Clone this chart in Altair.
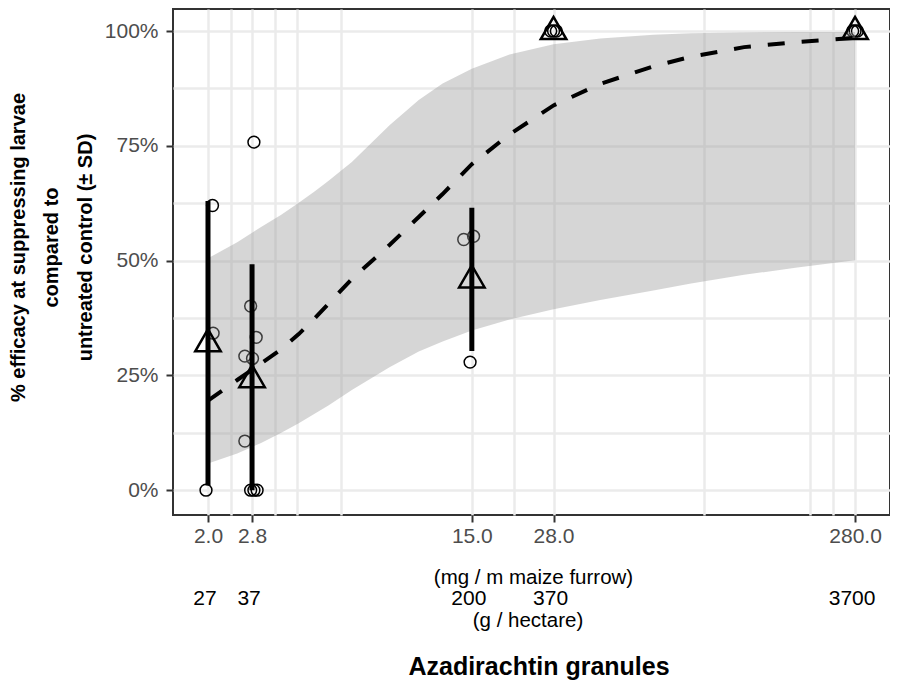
import altair as alt
import pandas as pd

# ---- data ----
# individual observations (jittered dose, % efficacy)
PT_DOSE = [1.97, 2.07, 2.08,
           2.84, 2.77, 2.89, 2.65, 2.81, 2.65, 2.77, 2.84, 2.91,
           14.1, 15.2, 14.8,
           27.4, 28.0, 28.6,
           275.0, 280.0, 285.0]
PT_PCT = [0.0, 62.0, 34.2,
          75.8, 40.1, 33.3, 29.2, 28.7, 10.7, 0.0, 0.0, 0.0,
          54.6, 55.3, 27.9,
          100.0, 100.0, 100.0,
          100.0, 100.0, 100.0]

# group means and +/- SD
MEAN_DOSE = [2.0, 2.8, 15.0, 28.0, 280.0]
MEAN_PCT = [32.0, 24.2, 45.9, 100.0, 100.0]
SD_LO = [1.0, 0.0, 30.3, 100.0, 100.0]
SD_HI = [63.0, 49.2, 61.5, 100.0, 100.0]

# fitted curve and its confidence band
FIT_DOSE = [2.0, 2.5, 3.0, 3.5, 4.0, 4.5, 5.0, 6.0, 8.0, 10.0, 12.0, 15.0, 20.0, 28.0,
            40.0, 60.0, 80.0, 120.0, 180.0, 280.0]
FIT_PCT = [19.5, 24.0, 27.6, 30.7, 34.0, 37.3, 40.5, 46.0, 53.4, 59.5, 64.5, 71.0, 77.5, 83.8,
           88.5, 92.3, 94.4, 96.5, 97.6, 98.5]
FIT_LO = [5.8, 8.0, 10.3, 12.5, 14.6, 16.6, 18.4, 21.8, 26.8, 30.2, 32.4, 34.8, 37.2, 39.4,
          41.4, 43.5, 45.0, 46.9, 48.5, 50.1]
FIT_HI = [50.5, 54.0, 57.3, 60.0, 62.6, 65.0, 67.3, 71.5, 79.5, 85.0, 88.6, 91.8, 94.9, 97.1,
          98.4, 99.2, 99.5, 99.7, 99.8, 99.8]

# axis breaks / labels
X_BREAKS = [2.0, 2.8, 15.0, 28.0, 280.0]
X_MINOR = [2.384, 3.336, 3.947, 5.523, 20.70, 88.3, 198.5, 236.6]
HA_LABELS = ["27", "37", "200", "370", "3700"]
Y_BREAKS = [0, 25, 50, 75, 100]
Y_MINOR = [12.5, 37.5, 62.5, 87.5]

FONT = "Liberation Sans"

pts = pd.DataFrame({"dose": PT_DOSE, "pct": PT_PCT})
means = pd.DataFrame({"dose": MEAN_DOSE, "pct": MEAN_PCT, "lo": SD_LO, "hi": SD_HI})
fit = pd.DataFrame({"dose": FIT_DOSE, "pct": FIT_PCT, "lo": FIT_LO, "hi": FIT_HI})
ha = pd.DataFrame({"dose": X_BREAKS, "label": HA_LABELS})

xscale = alt.Scale(type="log", domain=[1.531, 365.6], nice=False)
yscale = alt.Scale(domain=[-5.4, 104.8], nice=False, zero=False)

major_js = "[" + ",".join(str(v) for v in X_BREAKS) + "]"
xaxis = alt.Axis(
    values=sorted(X_BREAKS + X_MINOR),
    labelExpr=f"indexof({major_js}, datum.value) >= 0 ? format(datum.value, '.1f') : ''",
    tickOpacity={"condition": {"test": f"indexof({major_js}, datum.value) < 0", "value": 0}, "value": 1},
    title="(mg / m maize furrow)",
    titleX=360, titleY=62, titleBaseline="middle", titleAlign="center",
    titleFontWeight="normal", titleFontSize=20.5, titleColor="black", titleFont=FONT,
    labelFontSize=21, labelColor="#4d4d4d", labelPadding=3, labelFlush=False,
    labelOverlap=False, labelFont=FONT,
    tickSize=7, tickWidth=2, tickColor="#333333", domain=False,
    grid=True, gridColor="#ebebeb", gridWidth=2.5,
)
yaxis = alt.Axis(
    values=sorted(Y_BREAKS + Y_MINOR),
    labelExpr="datum.value % 25 === 0 ? datum.value + '%' : ''",
    tickOpacity={"condition": {"test": "datum.value % 25 !== 0", "value": 0}, "value": 1},
    title=["% efficacy at suppressing larvae", "compared to", "untreated control (± SD)"],
    titleX=-155, titleY=238, titleBaseline="middle", titleAlign="center",
    titleAngle=270, titleLineHeight=33.5,
    titleFontSize=20, titleFontWeight="bold", titleColor="black", titleFont=FONT,
    labelFontSize=21, labelColor="#4d4d4d", labelPadding=8, labelOverlap=False,
    labelFont=FONT,
    tickSize=7, tickWidth=2, tickColor="#333333", domain=False,
    grid=True, gridColor="#ebebeb", gridWidth=2.5,
)


def X(field="dose"):
    return alt.X(f"{field}:Q", scale=xscale, axis=xaxis)


def Y(field):
    return alt.Y(f"{field}:Q", scale=yscale, axis=yaxis)


circles = alt.Chart(pts).mark_point(
    shape="circle", filled=False, color="black", size=140, strokeWidth=1.5, opacity=1
).encode(x=X(), y=Y("pct"))

band = alt.Chart(fit).mark_area(color="#999999", opacity=0.4).encode(
    x=X(), y=Y("lo"), y2="hi:Q"
)

errbars = alt.Chart(means).mark_rule(color="black", strokeWidth=5).encode(
    x=X(), y=Y("lo"), y2="hi:Q"
)

triangles = alt.Chart(means).mark_point(
    shape="triangle-up", filled=False, color="black", size=650, strokeWidth=2.5,
    opacity=1, yOffset=-3
).encode(x=X(), y=Y("pct"))

curve = alt.Chart(fit).mark_line(color="black", strokeWidth=4, strokeDash=[17, 17]).encode(
    x=X(), y=Y("pct")
)

ha_labels = alt.Chart(ha).mark_text(
    fontSize=21, color="black", baseline="middle", align="center", dx=-3, font=FONT
).encode(x=X(), y=alt.value(590), text="label:N")

ha_title = alt.Chart(pd.DataFrame({"t": ["(g / hectare)"]})).mark_text(
    fontSize=20.5, color="black", baseline="middle", align="center", font=FONT
).encode(x=alt.value(355), y=alt.value(612), text="t:N")

main_title = alt.Chart(pd.DataFrame({"t": ["Azadirachtin granules"]})).mark_text(
    fontSize=25, fontWeight="bold", color="black", baseline="middle", align="center", font=FONT
).encode(x=alt.value(366), y=alt.value(658), text="t:N")

chart = alt.layer(
    circles, band, errbars, triangles, curve, ha_labels, ha_title, main_title
).properties(
    width=717, height=506,
    autosize=alt.AutoSizeParams(type="none"),
    padding={"left": 165, "top": 1, "right": 0, "bottom": 168},
    background="white",
).configure_view(stroke="#333333", strokeWidth=2)

chart.save("out.html", embed_options={"renderer": "svg", "actions": False})
